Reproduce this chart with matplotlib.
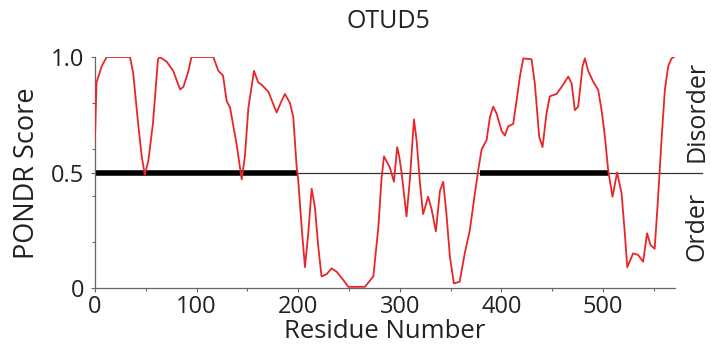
import matplotlib
matplotlib.use("Agg")
import matplotlib.pyplot as plt
from matplotlib.ticker import MultipleLocator

plt.rcParams['font.family'] = ['Open Sans', 'DejaVu Sans']

# PONDR score traced along the sequence (residue, score)
residue = [0, 1.5, 6.6, 11.5, 34.5, 37.6, 42.5, 46, 49, 52.5, 57, 62, 63.6, 70.5, 77,
           83.7, 87, 92, 95, 116.5, 119.8, 121.4, 126, 129.6, 133, 139.5, 144.4, 147.6,
           151, 156.5, 160.7, 164, 170.6, 178.8, 183.7, 187, 192, 195.2, 198.5, 200,
           203.4, 206.7, 210, 213.3, 216.5, 219.8, 223, 228, 233, 238, 244.4, 249.3,
           265.7, 274, 279, 282, 284.5, 290.4, 294.3, 297.5, 299.5, 301.8, 306.7, 310,
           314, 316.6, 320, 323, 328, 331.4, 335.6, 339.6, 342.8, 346, 349.4, 353.3,
           359, 364, 369, 374, 377.3, 380.6, 385.5, 388.8, 392, 395.3, 400.3, 403.5,
           406.8, 411.7, 415, 418.3, 421.6, 429.8, 433, 437.3, 440.6, 444.5, 447.8,
           454.4, 459.3, 465.9, 469.2, 472.4, 475.7, 480, 482.3, 485.5, 490.5, 495.4,
           498.7, 502, 505.2, 509.5, 514, 518.4, 521.6, 524, 529.8, 534.7, 539.6,
           543.5, 546.9, 551, 554.4, 557.7, 561, 564.3, 567.6, 570]
score = [0.65, 0.89, 0.96, 1.0, 1.0, 0.93, 0.71, 0.57, 0.49, 0.55, 0.71, 0.99, 1.0, 0.98,
         0.94, 0.86, 0.87, 0.94, 1.0, 1.0, 0.96, 0.94, 0.92, 0.81, 0.78, 0.62, 0.47, 0.57,
         0.78, 0.94, 0.89, 0.88, 0.85, 0.76, 0.81, 0.84, 0.80, 0.74, 0.525, 0.47,
         0.265, 0.09, 0.24, 0.43, 0.35, 0.18, 0.05, 0.06, 0.085, 0.07, 0.035, 0.005,
         0.005, 0.05, 0.265, 0.47, 0.57, 0.52, 0.46, 0.61, 0.57, 0.50, 0.31, 0.47,
         0.73, 0.64, 0.45, 0.32, 0.395, 0.34, 0.245, 0.42, 0.46, 0.32, 0.135, 0.02,
         0.027, 0.15, 0.25, 0.41, 0.51, 0.60, 0.64, 0.74, 0.785, 0.756, 0.68, 0.66,
         0.70, 0.71, 0.81, 0.915, 0.994, 0.99, 0.886, 0.655, 0.61, 0.756, 0.83,
         0.84, 0.87, 0.915, 0.886, 0.77, 0.785, 0.96, 0.994, 0.94, 0.893, 0.857,
         0.77, 0.655, 0.51, 0.395, 0.50, 0.41, 0.237, 0.09, 0.15, 0.143, 0.114,
         0.237, 0.186, 0.17, 0.395, 0.64, 0.857, 0.96, 0.994, 1.0]

# disordered segments drawn as thick bars on the 0.5 line
disorder_start = [0, 379]
disorder_end = [200, 505]

W, H = 711, 351
fig = plt.figure(figsize=(W / 100, H / 100), dpi=100)
ax = fig.add_axes([95 / W, 1 - 288 / H, 580 / W, 231 / H])

ax.plot([0, 598], [0.5, 0.5], color='#333333', lw=0.9, clip_on=False, zorder=1)
for s, e in zip(disorder_start, disorder_end):
    ax.plot([s, e], [0.5, 0.5], color='black', lw=4, solid_capstyle='butt', zorder=2)
ax.plot(residue, score, color='#e8262a', lw=1.3, zorder=3)

ax.set_xlim(0, 571)
ax.set_ylim(0, 1.0)
ax.set_xticks([0, 100, 200, 300, 400, 500])
ax.xaxis.set_minor_locator(MultipleLocator(50))
ax.set_yticks([0, 0.5, 1.0])
ax.set_yticklabels(['0', '0.5', '1.0'])
ax.yaxis.set_minor_locator(MultipleLocator(0.2))
ax.tick_params(which='both', colors='#666666', labelcolor='#222222', labelsize=17,
               direction='out', width=0.8)
ax.tick_params(which='major', length=3, pad=2)
ax.tick_params(which='minor', length=2)
ax.tick_params(axis='y', pad=5)
for side in ['top', 'right']:
    ax.spines[side].set_visible(False)
for side in ['left', 'bottom']:
    ax.spines[side].set_color('#666666')
    ax.spines[side].set_linewidth(0.9)

fig.text(388 / W, 1 - 22 / H, 'OTUD5', ha='center', va='center', fontsize=18, color='#222222')
fig.text(385 / W, 1 - 331 / H, 'Residue Number', ha='center', va='center', fontsize=18.5, color='#222222')
fig.text(27 / W, 1 - 173 / H, 'PONDR Score', rotation=90, ha='center', va='center', fontsize=19.5, color='#222222')
fig.text(697 / W, 1 - 111 / H, 'Disorder', rotation=90, ha='center', va='center', fontsize=18, color='#222222')
fig.text(697 / W, 1 - 226 / H, 'Order', rotation=90, ha='center', va='center', fontsize=18, color='#222222')

fig.savefig('out.png', dpi=100)
